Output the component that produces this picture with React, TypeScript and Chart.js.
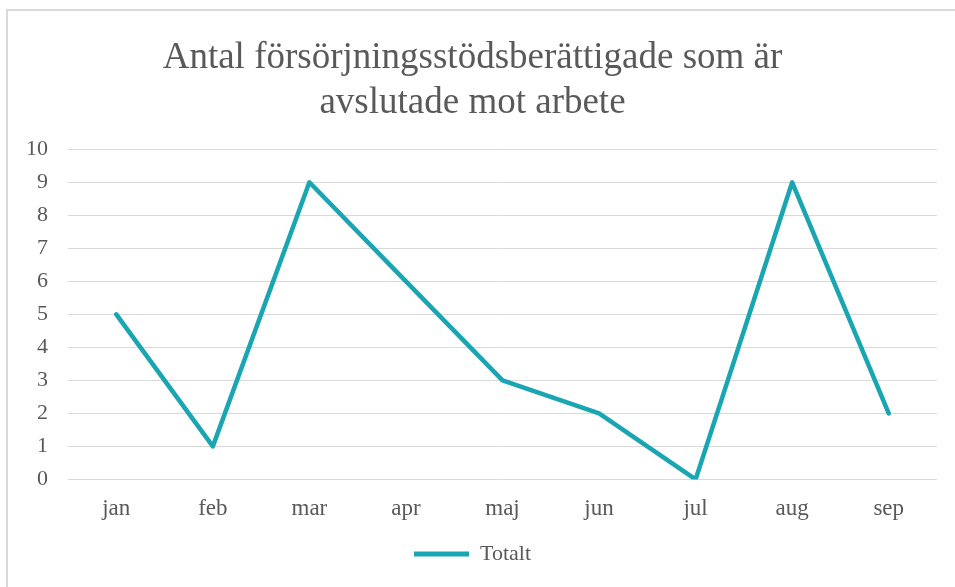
import React, { useEffect, useRef } from "react";
import { Chart, registerables } from "chart.js";

Chart.register(...registerables);

const categories = ["jan", "feb", "mar", "apr", "maj", "jun", "jul", "aug", "sep"];
const totalt = [5, 1, 9, 6, 3, 2, 0, 9, 2];
const titleLines = ["Antal försörjningsstödsberättigade som är", "avslutade mot arbete"];
const seriesName = "Totalt";

const FONT = "'Liberation Serif', 'Times New Roman', serif";
const TEXT = "#595959";
const TEAL = "#19A5B1";

export default function App() {
  const ref = useRef<HTMLCanvasElement | null>(null);
  useEffect(() => {
    if (!ref.current) return;
    const chart = new Chart(ref.current, {
      type: "line",
      data: {
        labels: categories,
        datasets: [
          {
            label: seriesName,
            data: totalt,
            borderColor: TEAL,
            backgroundColor: TEAL,
            borderWidth: 4.5,
            pointRadius: 0,
            pointHoverRadius: 0,
            tension: 0,
            borderCapStyle: "round",
            borderJoinStyle: "round",
          },
        ],
      },
      options: {
        responsive: false,
        animation: false,
        layout: { padding: { left: 8, right: 18, top: 0, bottom: 12 } },
        plugins: {
          title: {
            display: true,
            text: titleLines,
            color: TEXT,
            font: { family: FONT, size: 37, weight: "normal", lineHeight: 1.22 },
            padding: { top: 36, bottom: 23 },
          },
          legend: {
            display: true,
            position: "bottom",
            labels: {
              color: TEXT,
              font: { family: FONT, size: 22 },
              boxWidth: 55,
              boxHeight: 5,
              useBorderRadius: true,
              borderRadius: 2.5,
              padding: 4,
              generateLabels: () => [
                {
                  text: seriesName,
                  fillStyle: TEAL,
                  strokeStyle: TEAL,
                  lineWidth: 0,
                  hidden: false,
                  datasetIndex: 0,
                  fontColor: TEXT,
                } as any,
              ],
            },
          },
          tooltip: { enabled: false },
        },
        scales: {
          x: {
            offset: true,
            grid: { display: false, drawTicks: false },
            border: { display: false },
            ticks: { color: TEXT, font: { family: FONT, size: 23 }, padding: 16 },
          },
          y: {
            min: 0,
            max: 10,
            grid: { color: "#d9d9d9", lineWidth: 1, drawTicks: false },
            border: { display: false },
            ticks: { stepSize: 1, color: TEXT, font: { family: FONT, size: 22 }, padding: 20 },
            afterFit: (s: any) => {
              s.width = 60;
            },
          },
        },
      },
    });
    return () => chart.destroy();
  }, []);
  return (
    <div style={{ position: "absolute", left: 0, top: 0, width: 955, height: 587, background: "#fff" }}>
      <div
        style={{
          position: "absolute",
          left: 6,
          top: 9,
          right: 0,
          bottom: 0,
          borderTop: "2px solid #dadada",
          borderLeft: "2px solid #dadada",
        }}
      />
      <canvas ref={ref} width={955} height={587} style={{ position: "absolute", left: 0, top: 0 }} />
    </div>
  );
}
